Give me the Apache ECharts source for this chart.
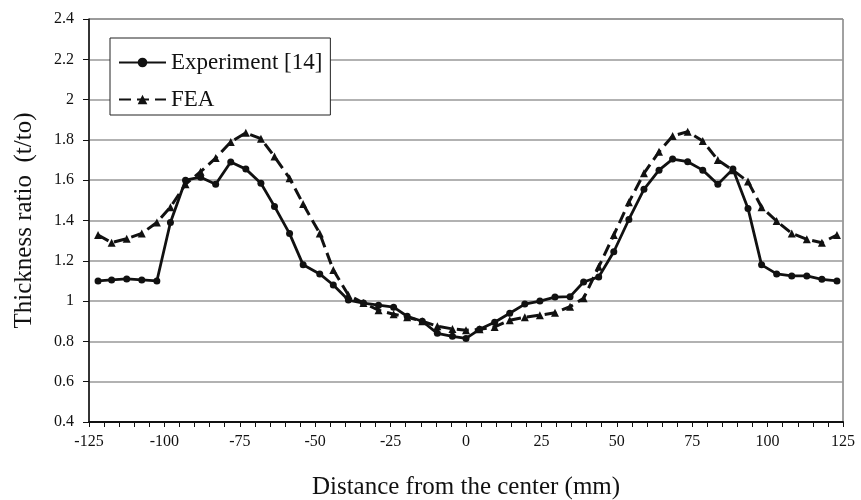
<!DOCTYPE html>
<html>
<head>
<meta charset="utf-8">
<script src="https://cdn.jsdelivr.net/npm/echarts@6/dist/echarts.min.js"></script>
<style>html,body{margin:0;padding:0;background:#fff;}#c{width:861px;height:500px;}</style>
</head>
<body>
<div id="c"></div>
<script>
const distance = [-122, -117.5, -112.5, -107.5, -102.5, -98, -93, -88, -83, -78, -73, -68, -63.5, -58.5, -54, -48.5, -44, -39, -34, -29, -24, -19.5, -14.5, -9.5, -4.5, 0, 4.5, 9.5, 14.5, 19.5, 24.5, 29.5, 34.5, 39, 44, 49, 54, 59, 64, 68.5, 73.5, 78.5, 83.5, 88.5, 93.5, 98, 103, 108, 113, 118, 123];
const experiment = [1.10, 1.105, 1.11, 1.105, 1.10, 1.39, 1.60, 1.615, 1.58, 1.69, 1.655, 1.585, 1.47, 1.335, 1.18, 1.135, 1.08, 1.005, 0.99, 0.98, 0.97, 0.925, 0.90, 0.84, 0.825, 0.815, 0.86, 0.895, 0.94, 0.985, 1.0, 1.02, 1.022, 1.095, 1.12, 1.245, 1.405, 1.555, 1.65, 1.705, 1.692, 1.65, 1.58, 1.655, 1.46, 1.18, 1.135, 1.125, 1.125, 1.108, 1.10];
const fea = [1.328, 1.29, 1.31, 1.336, 1.39, 1.466, 1.58, 1.642, 1.71, 1.79, 1.835, 1.806, 1.717, 1.61, 1.482, 1.336, 1.154, 1.03, 0.99, 0.955, 0.935, 0.92, 0.90, 0.875, 0.862, 0.855, 0.86, 0.872, 0.905, 0.92, 0.93, 0.942, 0.972, 1.014, 1.17, 1.328, 1.49, 1.634, 1.741, 1.819, 1.841, 1.795, 1.70, 1.65, 1.593, 1.466, 1.397, 1.336, 1.307, 1.29, 1.328];
const seriesNames = ['Experiment [14]', 'FEA'];
const xTitle = 'Distance from the center (mm)';
const yTitle = 'Thickness ratio  (t/to)';

const font = 'Liberation Serif';
const chart = echarts.init(document.getElementById('c'), null, {renderer: 'canvas'});
chart.setOption({
  animation: false,
  backgroundColor: '#fff',
  textStyle: {fontFamily: font},
  grid: {left: 89, right: 18, top: 19, bottom: 78, outerBoundsMode: 'none', containLabel: false,
         show: true, borderColor: '#444', borderWidth: 1},
  legend: {
    orient: 'vertical',
    left: 110, top: 38,
    padding: [13, 8, 4, 8],
    itemGap: 14,
    itemWidth: 47, itemHeight: 12,
    backgroundColor: '#fff',
    borderColor: '#222', borderWidth: 1,
    textStyle: {fontFamily: font, fontSize: 23, color: '#111'},
    data: seriesNames
  },
  xAxis: {
    type: 'value', min: -125, max: 125, interval: 25,
    name: xTitle, nameLocation: 'middle', nameGap: 53,
    nameTextStyle: {fontFamily: font, fontSize: 25, color: '#111'},
    axisLine: {onZero: false, lineStyle: {color: '#111', width: 2}},
    axisTick: {show: true, length: 5, lineStyle: {color: '#111'}},
    minorTick: {show: true, splitNumber: 5, length: 5, lineStyle: {color: '#111'}},
    axisLabel: {fontFamily: font, fontSize: 16, color: '#111', margin: 12},
    splitLine: {show: false}
  },
  yAxis: {
    type: 'value', min: 0.4, max: 2.4, interval: 0.2, position: 'left',
    name: yTitle, nameLocation: 'middle', nameGap: 52,
    nameTextStyle: {fontFamily: font, fontSize: 25, color: '#111'},
    axisLine: {show: true, onZero: false, lineStyle: {color: '#111', width: 1.5}},
    axisTick: {show: true, length: 6, inside: false, lineStyle: {color: '#111'}},
    axisLabel: {fontFamily: font, fontSize: 16, color: '#111', margin: 15,
      formatter: v => String(Math.round(v * 10) / 10)},
    splitLine: {show: true, lineStyle: {color: '#999', width: 1.5}}
  },
  series: [
    {
      name: seriesNames[0], type: 'line',
      data: distance.map((x, i) => [x, experiment[i]]),
      symbol: 'circle', symbolSize: 7,
      itemStyle: {color: '#111'},
      lineStyle: {color: '#111', width: 2.8},
      z: 3
    },
    {
      name: seriesNames[1], type: 'line',
      data: distance.map((x, i) => [x, fea[i]]),
      symbol: 'triangle', symbolSize: 8,
      itemStyle: {color: '#111'},
      lineStyle: {color: '#111', width: 3, type: [12, 6]},
      z: 2
    }
  ]
});
</script>
</body>
</html>
